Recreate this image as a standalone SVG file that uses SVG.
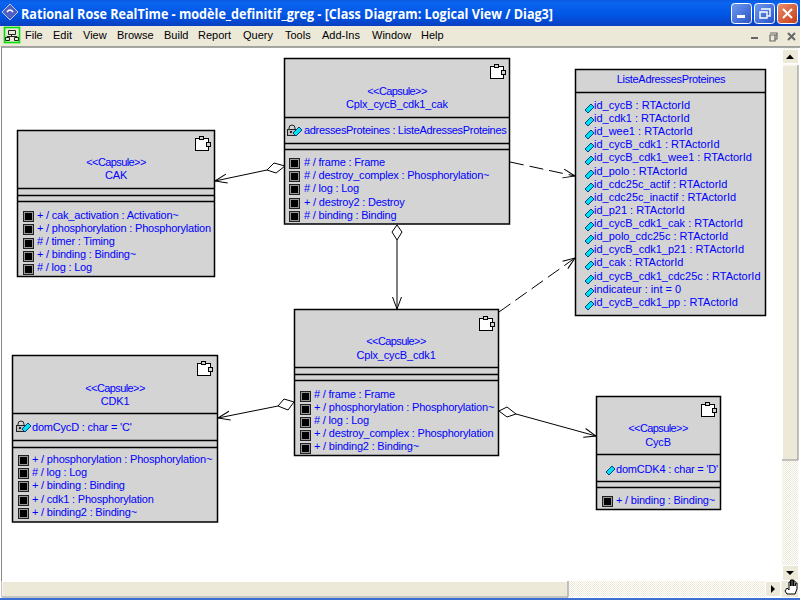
<svg xmlns="http://www.w3.org/2000/svg" width="800" height="600" viewBox="0 0 800 600">
<style>
text{font-family:"Liberation Sans",Arial,sans-serif}
.t{font-size:11px;fill:#0000ff;letter-spacing:-0.2px}
.l{letter-spacing:0}
.s{letter-spacing:-0.6px}
.n{letter-spacing:-0.15px}
.a{letter-spacing:-0.32px}
.c{text-anchor:middle}
.m{font-size:11px;fill:#000}
.box{fill:#d4d4d4;stroke:#000;stroke-width:1.5}
.sep{stroke:#000;stroke-width:1.5;fill:none}
.conn{stroke:#000;stroke-width:1;fill:none}
.dash{stroke-dasharray:14 6}
.dia{fill:#fff;stroke:#000;stroke-width:1}
.btn{fill:#ece9d8;stroke:#fff;stroke-width:1}
</style>
<defs>
<linearGradient id="tb" x1="0" y1="0" x2="0" y2="1"><stop offset="0" stop-color="#0a5ae0"/><stop offset="0.12" stop-color="#0a64f0"/><stop offset="0.6" stop-color="#0054e3"/><stop offset="1" stop-color="#0a3fc0"/></linearGradient>
<linearGradient id="bb" x1="0" y1="0" x2="1" y2="1"><stop offset="0" stop-color="#6f9bf0"/><stop offset="1" stop-color="#2a52c8"/></linearGradient>
<linearGradient id="br" x1="0" y1="0" x2="1" y2="1"><stop offset="0" stop-color="#e8906c"/><stop offset="1" stop-color="#c83a18"/></linearGradient>
<pattern id="dith" width="2" height="2" patternUnits="userSpaceOnUse"><rect width="2" height="2" fill="#fff"/><rect width="1" height="1" fill="#ece9d8"/><rect x="1" y="1" width="1" height="1" fill="#ece9d8"/></pattern>
<marker id="open" markerUnits="userSpaceOnUse" markerWidth="16" markerHeight="14" refX="13" refY="7" orient="auto"><path d="M1,2.500 L13,7 L1,11.500" fill="none" stroke="#000" stroke-width="1"/></marker>
<g id="cap"><rect x="0.5" y="2.5" width="13" height="12" fill="#fff" stroke="#000" stroke-width="1"/><rect x="4.5" y="0.5" width="4" height="3" fill="#d4d4d4" stroke="#000" stroke-width="1"/><rect x="11.5" y="6.5" width="4" height="4" fill="#d4d4d4" stroke="#000" stroke-width="1"/></g>
<g id="port"><rect x="0.5" y="0.5" width="10" height="10" fill="#000" stroke="#222" stroke-width="1"/><rect x="1.5" y="1.5" width="8" height="8" fill="none" stroke="#999" stroke-width="1"/></g>
<polygon id="attr" points="0,6 6,0 9,3 3,9" fill="#00e0f0" stroke="#004080" stroke-width="1"/>
<g id="lock"><path d="M2,5 V3 Q2,0 5,0 Q8,0 8,3 V5" fill="none" stroke="#222" stroke-width="1"/><rect x="0.5" y="4.5" width="9" height="6" fill="#bbb" stroke="#222" stroke-width="1"/><rect x="3" y="6" width="2" height="2" fill="#222"/></g>
</defs>

<rect width="800" height="600" fill="#fff"/>
<rect x="0" y="0" width="800" height="26" fill="url(#tb)"/>
<polygon points="10,4 18,12 10,20 2,12" fill="#5060c0" stroke="#c0c8f0" stroke-width="1"/>
<path d="M7,12 Q10,8 13,12" fill="none" stroke="#fff" stroke-width="1.4"/>
<text x="21" y="19" font-size="14.5" font-weight="bold" fill="#fff" textLength="532" lengthAdjust="spacingAndGlyphs" style="font-family:'Open Sans','Liberation Sans',sans-serif">Rational Rose RealTime - modèle_definitif_greg - [Class Diagram: Logical View / Diag3]</text>
<rect x="731.5" y="3.5" width="20" height="20" rx="3" fill="url(#bb)" stroke="#fff"/>
<rect x="737" y="15" width="8" height="3" fill="#fff"/>
<rect x="754.5" y="3.5" width="20" height="20" rx="3" fill="url(#bb)" stroke="#fff"/>
<path d="M761,9h9v7h-3M760,12h7v6h-7z" fill="none" stroke="#fff" stroke-width="1.4"/>
<rect x="777.5" y="3.5" width="20" height="20" rx="3" fill="url(#br)" stroke="#fff"/>
<path d="M783,9l9,9M792,9l-9,9" stroke="#fff" stroke-width="2"/>

<rect x="0" y="26" width="800" height="21" fill="#ece9d8"/>
<rect x="4.500" y="27.500" width="15" height="15" fill="#e8e8d8" stroke="#00e000" stroke-width="1.6"/>
<path d="M8.500,30.500h7v4h-7zM11.500,34.500v2M7,36.500h10M7,36.500v1M17,36.500v1M5.500,37.500h4v3h-4zM14.500,37.500h4v3h-4z" fill="none" stroke="#222" stroke-width="1"/>
<text class="m" x="25" y="39">File</text>
<text class="m" x="53" y="39">Edit</text>
<text class="m" x="83" y="39">View</text>
<text class="m" x="117" y="39">Browse</text>
<text class="m" x="164" y="39">Build</text>
<text class="m" x="198" y="39">Report</text>
<text class="m" x="243" y="39">Query</text>
<text class="m" x="285" y="39">Tools</text>
<text class="m" x="322" y="39">Add-Ins</text>
<text class="m" x="372" y="39">Window</text>
<text class="m" x="421" y="39">Help</text>
<path d="M751,38h7" stroke="#666" stroke-width="2"/>
<path d="M770,33h7v6h-2M770,35h5v6h-5zM770,35h7" fill="none" stroke="#666" stroke-width="1.2"/>
<path d="M788,33l7,7M795,33l-7,7" stroke="#666" stroke-width="2"/>
<path d="M1,47H800" stroke="#888" stroke-width="1.5"/>
<path d="M1.500,47V597" stroke="#888" stroke-width="1"/>

<g id="scrollbars">
<rect x="782" y="48" width="16" height="533" fill="url(#dith)"/>
<rect x="782.500" y="49.500" width="16" height="14" class="btn"/>
<polygon points="786,60 790,55.500 794,60" fill="#000" transform="translate(0,-1)"/>
<rect x="782.500" y="65" width="16" height="395" class="btn"/>
<path d="M798,65V460H782" fill="none" stroke="#888"/>
<rect x="782.500" y="565.500" width="16" height="15" class="btn"/>
<polygon points="786,571 794,571 790,575" fill="#000"/>
<rect x="2" y="581" width="780" height="16" fill="url(#dith)"/>
<rect x="2" y="581.500" width="566" height="15" class="btn"/>
<path d="M568,581V597H2" fill="none" stroke="#888"/>
<rect x="765.500" y="581.500" width="15" height="15" class="btn"/>
<polygon points="771,585 775,589 771,593" fill="#000"/>
<rect x="782" y="581" width="16" height="16" fill="#ece9d8"/>
<path d="M785,591l2,3h8l2-5v-6h-1l-1,3v-5h-1.500v5-6h-1.500v6-6h-1.500v6-4h-1.500v8l-2-2z" fill="#fff" stroke="#000" stroke-width="1"/>
<rect x="0" y="598" width="800" height="2" fill="#3a6ed0"/>
</g>

<g id="connectors">
<line class="conn" x1="267" y1="170" x2="215" y2="181" marker-end="url(#open)"/>
<polygon class="dia" points="267,170 274,163 285,166 276,173"/>
<line class="conn" x1="397" y1="240" x2="397" y2="309" marker-end="url(#open)"/>
<polygon class="dia" points="397,225 402,232 397,240 392,232"/>
<line class="conn" x1="278" y1="406" x2="218" y2="418" marker-end="url(#open)"/>
<polygon class="dia" points="278,406 284,399 294,402 288,410"/>
<line class="conn" x1="516" y1="414" x2="596" y2="436" marker-end="url(#open)"/>
<polygon class="dia" points="499,411 507,407 516,414 507,417"/>
<line class="conn dash" x1="510" y1="162" x2="575" y2="176" marker-end="url(#open)"/>
<line class="conn dash" x1="499" y1="312" x2="575" y2="258" marker-end="url(#open)"/>
</g>

<g id="node-cplx-cak">
<rect class="box" x="284.500" y="58.500" width="225" height="165.500"/>
<path class="sep" d="M284.500,117.500H509.500M284.500,143.500H509.500M284.500,149.500H509.500"/>
<use href="#cap" x="490" y="64"/>
<text class="t c s" x="397" y="95">&lt;&lt;Capsule&gt;&gt;</text>
<text class="t c n" x="397" y="108">Cplx_cycB_cdk1_cak</text>
<use href="#lock" x="287" y="125"/><use href="#attr" x="293" y="127"/>
<text class="t a" x="304" y="134">adressesProteines : ListeAdressesProteines</text>
<use href="#port" x="289" y="158"/><text class="t" x="304" y="166"># / frame : Frame</text>
<use href="#port" x="289" y="171"/><text class="t" x="304" y="179"># / destroy_complex : Phosphorylation~</text>
<use href="#port" x="289" y="184"/><text class="t" x="304" y="192"># / log : Log</text>
<use href="#port" x="289" y="198"/><text class="t" x="304" y="206">+ / destroy2 : Destroy</text>
<use href="#port" x="289" y="211"/><text class="t" x="304" y="219"># / binding : Binding</text>
</g>

<g id="node-cak">
<rect class="box" x="17.500" y="130.500" width="197" height="146"/>
<path class="sep" d="M17.500,188.500H214.500M17.500,195.500H214.500M17.500,201.500H214.500"/>
<use href="#cap" x="195" y="136"/>
<text class="t c s" x="116" y="166">&lt;&lt;Capsule&gt;&gt;</text>
<text class="t c n" x="116" y="179">CAK</text>
<use href="#port" x="23" y="211"/><text class="t" x="37" y="219">+ / cak_activation : Activation~</text>
<use href="#port" x="23" y="224"/><text class="t" x="37" y="232">+ / phosphorylation : Phosphorylation</text>
<use href="#port" x="23" y="238"/><text class="t" x="37" y="245"># / timer : Timing</text>
<use href="#port" x="23" y="251"/><text class="t" x="37" y="258">+ / binding : Binding~</text>
<use href="#port" x="23" y="264"/><text class="t" x="37" y="271"># / log : Log</text>
</g>

<g id="node-liste">
<rect class="box" x="575.500" y="69.500" width="190" height="246"/>
<path class="sep" d="M575.500,92.500H765.500"/>
<text class="t c a" x="671" y="83">ListeAdressesProteines</text>
<use href="#attr" x="585" y="104"/><text class="t l" x="594" y="109">id_cycB : RTActorId</text>
<use href="#attr" x="585" y="117"/><text class="t l" x="594" y="122">id_cdk1 : RTActorId</text>
<use href="#attr" x="585" y="130"/><text class="t l" x="594" y="135">id_wee1 : RTActorId</text>
<use href="#attr" x="585" y="143"/><text class="t l" x="594" y="148">id_cycB_cdk1 : RTActorId</text>
<use href="#attr" x="585" y="156"/><text class="t l" x="594" y="161">id_cycB_cdk1_wee1 : RTActorId</text>
<use href="#attr" x="585" y="170"/><text class="t l" x="594" y="175">id_polo : RTActorId</text>
<use href="#attr" x="585" y="183"/><text class="t l" x="594" y="188">id_cdc25c_actif : RTActorId</text>
<use href="#attr" x="585" y="196"/><text class="t l" x="594" y="201">id_cdc25c_inactif : RTActorId</text>
<use href="#attr" x="585" y="209"/><text class="t l" x="594" y="214">id_p21 : RTActorId</text>
<use href="#attr" x="585" y="222"/><text class="t l" x="594" y="227">id_cycB_cdk1_cak : RTActorId</text>
<use href="#attr" x="585" y="235"/><text class="t l" x="594" y="240">id_polo_cdc25c : RTActorId</text>
<use href="#attr" x="585" y="248"/><text class="t l" x="594" y="253">id_cycB_cdk1_p21 : RTActorId</text>
<use href="#attr" x="585" y="261"/><text class="t l" x="594" y="266">id_cak : RTActorId</text>
<use href="#attr" x="585" y="275"/><text class="t l" x="594" y="280">id_cycB_cdk1_cdc25c : RTActorId</text>
<use href="#attr" x="585" y="288"/><text class="t l" x="594" y="293">indicateur : int = 0</text>
<use href="#attr" x="585" y="301"/><text class="t l" x="594" y="306">id_cycB_cdk1_pp : RTActorId</text>
</g>

<g id="node-cplx">
<rect class="box" x="294.500" y="309.500" width="204" height="146"/>
<path class="sep" d="M294.500,367.500H498.500M294.500,374.500H498.500M294.500,380.500H498.500"/>
<use href="#cap" x="479" y="316"/>
<text class="t c s" x="396" y="345">&lt;&lt;Capsule&gt;&gt;</text>
<text class="t c n" x="396" y="359">Cplx_cycB_cdk1</text>
<use href="#port" x="300" y="391"/><text class="t" x="314" y="398"># / frame : Frame</text>
<use href="#port" x="300" y="404"/><text class="t" x="314" y="411">+ / phosphorylation : Phosphorylation~</text>
<use href="#port" x="300" y="417"/><text class="t" x="314" y="424"># / log : Log</text>
<use href="#port" x="300" y="430"/><text class="t" x="314" y="437">+ / destroy_complex : Phosphorylation</text>
<use href="#port" x="300" y="443"/><text class="t" x="314" y="450">+ / binding2 : Binding~</text>
</g>

<g id="node-cdk1">
<rect class="box" x="12.500" y="355.500" width="205" height="166.500"/>
<path class="sep" d="M12.500,413.500H217.500M12.500,440.500H217.500M12.500,447.500H217.500"/>
<use href="#cap" x="197" y="361"/>
<text class="t c s" x="115" y="392">&lt;&lt;Capsule&gt;&gt;</text>
<text class="t c n" x="115" y="405">CDK1</text>
<use href="#lock" x="16" y="421"/><use href="#attr" x="22" y="423"/>
<text class="t" x="32" y="431">domCycD : char = 'C'</text>
<use href="#port" x="18" y="455"/><text class="t" x="32" y="463">+ / phosphorylation : Phosphorylation~</text>
<use href="#port" x="18" y="468"/><text class="t" x="32" y="476"># / log : Log</text>
<use href="#port" x="18" y="481"/><text class="t" x="32" y="489">+ / binding : Binding</text>
<use href="#port" x="18" y="495"/><text class="t" x="32" y="503">+ / cdk1 : Phosphorylation</text>
<use href="#port" x="18" y="508"/><text class="t" x="32" y="516">+ / binding2 : Binding~</text>
</g>

<g id="node-cycb">
<rect class="box" x="596.500" y="396.500" width="124" height="113"/>
<path class="sep" d="M596.500,454.500H720.500M596.500,481.500H720.500M596.500,487.500H720.500"/>
<use href="#cap" x="701" y="402"/>
<text class="t c s" x="658" y="432">&lt;&lt;Capsule&gt;&gt;</text>
<text class="t c n" x="658" y="446">CycB</text>
<use href="#attr" x="606" y="466"/>
<text class="t" x="616" y="473">domCDK4 : char = 'D'</text>
<use href="#port" x="602" y="496"/><text class="t" x="616" y="504">+ / binding : Binding~</text>
</g>
</svg>
